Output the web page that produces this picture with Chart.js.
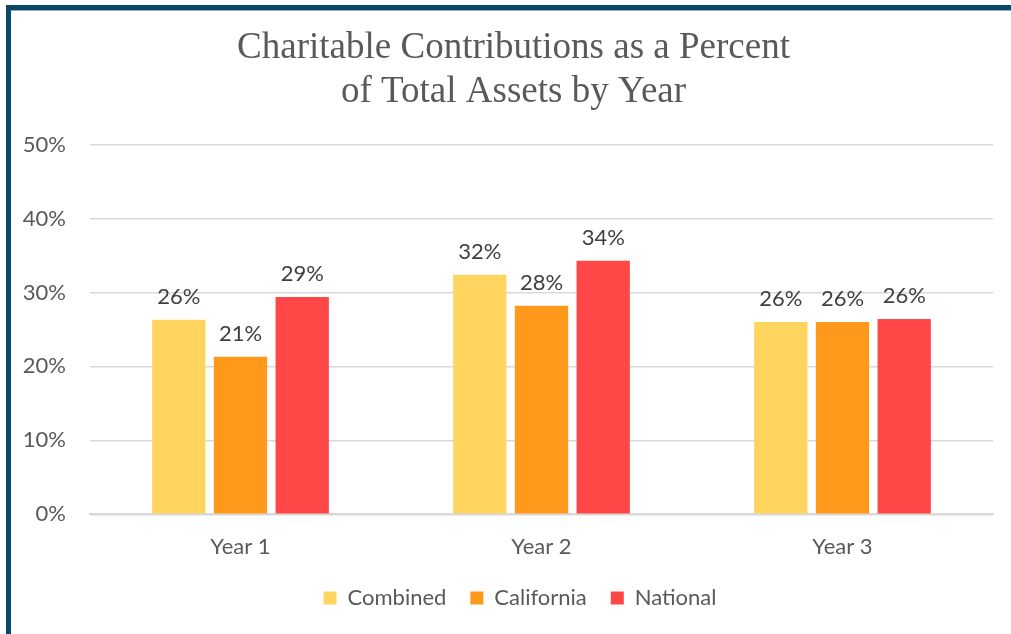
<!DOCTYPE html>
<html>
<head>
<meta charset="utf-8">
<script src="https://cdn.jsdelivr.net/npm/chart.js@4/dist/chart.umd.min.js"></script>
<style>
  html, body { margin: 0; padding: 0; background: #ffffff; }
  #wrap { position: relative; width: 1011px; height: 634px; overflow: hidden; }
  #c { position: absolute; left: 0; top: 0; }
  #frame { position: absolute; left: 6px; top: 5px; right: -10px; bottom: -10px;
           border-left: 5px solid #0b4866; border-top: 5px solid #0b4866; pointer-events: none; }
  #frameLine { position: absolute; left: 11px; top: 10px; right: 0; height: 1px; background: #8fb0bf; }
</style>
</head>
<body>
<div id="wrap">
  <canvas id="c" width="1011" height="634"></canvas>
  <div id="frame"></div>
  <div id="frameLine"></div>
</div>
<script>
const titleLines = ['Charitable Contributions as a Percent', 'of Total Assets by Year'];
const categories = ['Year 1', 'Year 2', 'Year 3'];
const seriesNames = ['Combined', 'California', 'National'];
const combined = [26.3, 32.4, 26.0];
const california = [21.3, 28.2, 26.0];
const national = [29.4, 34.3, 26.4];
const yTicks = [0, 10, 20, 30, 40, 50];
const colors = ['#FFD55F', '#FF991C', '#FF4747'];

const FONT = 'Lato, "Open Sans", sans-serif';

const dataLabelPlugin = {
  id: 'dataLabels',
  afterDatasetsDraw(chart) {
    const ctx = chart.ctx;
    ctx.save();
    ctx.font = '22px ' + FONT;
    ctx.fillStyle = '#404040';
    ctx.textAlign = 'center';
    ctx.textBaseline = 'middle';
    chart.data.datasets.forEach((ds, i) => {
      const meta = chart.getDatasetMeta(i);
      meta.data.forEach((el, j) => {
        ctx.fillText(Math.round(ds.data[j]) + '%', el.x, el.y - 23);
      });
    });
    ctx.restore();
  }
};

// shift the centring box of title and legend (the reference centres them a bit right of the canvas middle)
const centreShiftPlugin = {
  id: 'centreShift',
  afterLayout(chart) {
    if (chart.titleBlock) chart.titleBlock.left += 14;
    if (chart.legend) chart.legend.left += 27;
  }
};

new Chart(document.getElementById('c'), {
  type: 'bar',
  data: {
    labels: categories,
    datasets: [
      { label: seriesNames[0], data: combined, backgroundColor: colors[0] },
      { label: seriesNames[1], data: california, backgroundColor: colors[1] },
      { label: seriesNames[2], data: national, backgroundColor: colors[2] }
    ]
  },
  options: {
    responsive: false,
    devicePixelRatio: 1,
    animation: false,
    categoryPercentage: 0.615,
    barPercentage: 0.864,
    layout: { padding: { left: 20, right: 18, top: 0, bottom: 15 } },
    plugins: {
      title: {
        display: true,
        text: titleLines,
        color: '#595959',
        font: { family: '"Liberation Serif", "Times New Roman", serif', size: 37, weight: 'normal', lineHeight: 1.19 },
        padding: { top: 26, bottom: 30.5 }
      },
      legend: {
        display: true,
        position: 'bottom',
        labels: {
          color: '#595959',
          font: { family: FONT, size: 22 },
          boxWidth: 13,
          boxHeight: 13,
          padding: 24
        }
      },
      tooltip: { enabled: false }
    },
    scales: {
      x: {
        afterFit(scale) { scale.height = 48.7; },
        grid: { display: false, drawTicks: false },
        border: { display: true, color: '#d9d9d9', width: 2 },
        ticks: { color: '#595959', font: { family: FONT, size: 22 }, padding: 19.5 }
      },
      y: {
        min: 0,
        max: 50,
        afterFit(scale) { scale.width = 70; },
        afterBuildTicks(scale) { scale.ticks = yTicks.map(v => ({ value: v })); },
        grid: { color: '#d9d9d9', lineWidth: 1.5, drawTicks: false },
        border: { display: false },
        ticks: {
          color: '#595959',
          font: { family: FONT, size: 22 },
          padding: 24,
          callback: v => v + '%'
        }
      }
    }
  },
  plugins: [dataLabelPlugin, centreShiftPlugin]
});
</script>
</body>
</html>
